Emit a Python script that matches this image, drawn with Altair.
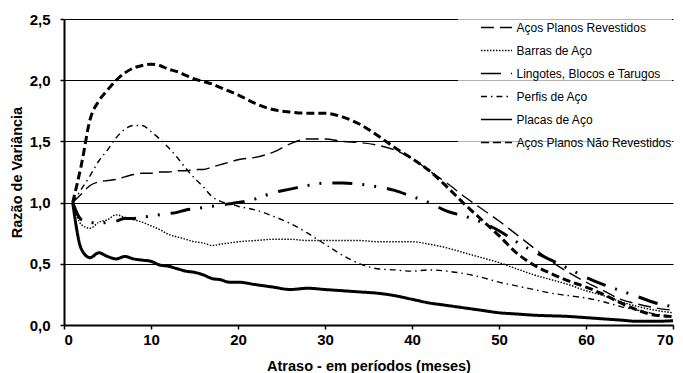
import altair as alt
import pandas as pd

xs = [1,2,3,4,5,6,7,8,9,10,11,12,13,14,15,16,17,18,19,20,22,24,26,28,30,32,34,36,38,40,42,44,46,48,50,52,54,56,58,60,62,64,66,68,70]

series_names = [
    "Aços Planos Revestidos",
    "Barras de Aço",
    "Lingotes, Blocos e Tarugos",
    "Perfis de Aço",
    "Placas de Aço",
    "Aços Planos Não Revestidos",
]
thick_series = ["Lingotes, Blocos e Tarugos", "Placas de Aço", "Aços Planos Não Revestidos"]

revestidos = [1.0,1.07,1.14,1.17,1.18,1.19,1.21,1.23,1.24,1.24,1.25,1.25,1.26,1.26,1.27,1.27,1.29,1.31,1.33,1.35,1.37,1.41,1.48,1.52,1.52,1.50,1.49,1.47,1.43,1.36,1.26,1.16,1.05,0.95,0.85,0.74,0.63,0.52,0.43,0.35,0.28,0.21,0.17,0.14,0.12]
barras = [1.0,0.82,0.79,0.84,0.86,0.90,0.88,0.86,0.84,0.81,0.78,0.74,0.72,0.70,0.68,0.67,0.65,0.66,0.67,0.68,0.69,0.70,0.70,0.69,0.69,0.69,0.69,0.68,0.68,0.68,0.66,0.63,0.59,0.55,0.51,0.46,0.41,0.37,0.33,0.28,0.24,0.19,0.15,0.12,0.10]
lingotes = [1.0,0.86,0.84,0.83,0.84,0.85,0.87,0.87,0.88,0.89,0.90,0.91,0.92,0.94,0.95,0.96,0.97,0.98,0.99,1.00,1.03,1.08,1.11,1.14,1.16,1.16,1.15,1.13,1.10,1.05,1.00,0.93,0.89,0.84,0.77,0.68,0.60,0.53,0.46,0.39,0.33,0.28,0.23,0.18,0.15]
perfis = [1.0,1.11,1.22,1.34,1.43,1.53,1.60,1.63,1.63,1.58,1.52,1.45,1.37,1.28,1.20,1.13,1.05,1.01,0.99,0.97,0.94,0.89,0.83,0.75,0.66,0.57,0.50,0.46,0.45,0.44,0.45,0.44,0.42,0.39,0.35,0.32,0.29,0.26,0.24,0.22,0.19,0.15,0.12,0.09,0.07]
placas = [1.0,0.62,0.55,0.59,0.56,0.54,0.56,0.54,0.53,0.52,0.49,0.48,0.46,0.44,0.43,0.41,0.38,0.37,0.35,0.35,0.33,0.31,0.29,0.30,0.29,0.28,0.27,0.26,0.24,0.21,0.18,0.16,0.14,0.12,0.10,0.09,0.08,0.075,0.07,0.06,0.05,0.04,0.03,0.03,0.035]
nao_revestidos = [1.0,1.31,1.68,1.83,1.92,2.00,2.06,2.10,2.12,2.13,2.12,2.09,2.07,2.04,2.01,1.99,1.97,1.94,1.91,1.88,1.81,1.76,1.74,1.73,1.73,1.70,1.64,1.55,1.45,1.36,1.26,1.13,0.99,0.86,0.73,0.59,0.49,0.42,0.36,0.31,0.25,0.18,0.12,0.08,0.07]

x_ticks = [0, 10, 20, 30, 40, 50, 60, 70]
y_ticks = [0.0, 0.5, 1.0, 1.5, 2.0, 2.5]

all_values = [revestidos, barras, lingotes, perfis, placas, nao_revestidos]
rows = []
for name, vals in zip(series_names, all_values):
    for xv, yv in zip(xs, vals):
        rows.append({"atraso": xv, "razao": yv, "serie": name})
df = pd.DataFrame(rows)

dashes = [[13, 6], [1.5, 1.5], [20, 10, 2, 10, 2, 11], [6, 4, 1.5, 4], [1, 0], [8, 4]]

leg = alt.Legend(
    title=None,
    orient="none",
    legendX=394,
    legendY=-8,
    padding=0,
    symbolOffset=22,
    symbolSize=968,
    symbolType="stroke",
    symbolStrokeColor="black",
    labelFont="Liberation Sans",
    labelFontSize=12,
    labelColor="black",
    labelOffset=3.5,
    labelLimit=400,
    rowPadding=-1.6,
    fillColor="rgba(255,255,255,0.7)",
)

chart = alt.Chart(df).mark_line(interpolate="monotone", color="black").encode(
    x=alt.X("atraso:Q", scale=alt.Scale(domain=[0, 70], nice=False),
            axis=alt.Axis(values=x_ticks, title="Atraso - em períodos (meses)", grid=False,
                          labelPadding=3, titlePadding=12)),
    y=alt.Y("razao:Q", scale=alt.Scale(domain=[0, 2.5], nice=False),
            axis=alt.Axis(values=y_ticks, title="Razão de Variância", grid=True,
                          format=".1f", labelExpr="replace(datum.label, '.', ',')",
                          labelPadding=10, titlePadding=5)),
    strokeDash=alt.StrokeDash("serie:N", scale=alt.Scale(domain=series_names, range=dashes), legend=leg,
                              sort=series_names),
    strokeWidth=alt.condition(alt.FieldOneOfPredicate(field="serie", oneOf=thick_series),
                              alt.value(3), alt.value(1.4)),
).properties(
    width=609,
    height=306,
    autosize=alt.AutoSizeParams(type="none"),
    padding={"left": 56, "top": 11, "right": 2, "bottom": 48},
).configure_view(
    stroke=None
).configure_axis(
    domainColor="black",
    domainWidth=2,
    tickColor="black",
    tickWidth=1.5,
    tickSize=4,
    gridColor="black",
    gridWidth=1,
    labelFont="Liberation Sans",
    labelFontSize=15,
    labelFontWeight="bold",
    labelColor="black",
    titleFont="Liberation Sans",
    titleFontSize=14.5,
    titleFontWeight="bold",
    titleColor="black",
)

chart.save("out.html", embed_options={"renderer": "svg", "actions": False})
